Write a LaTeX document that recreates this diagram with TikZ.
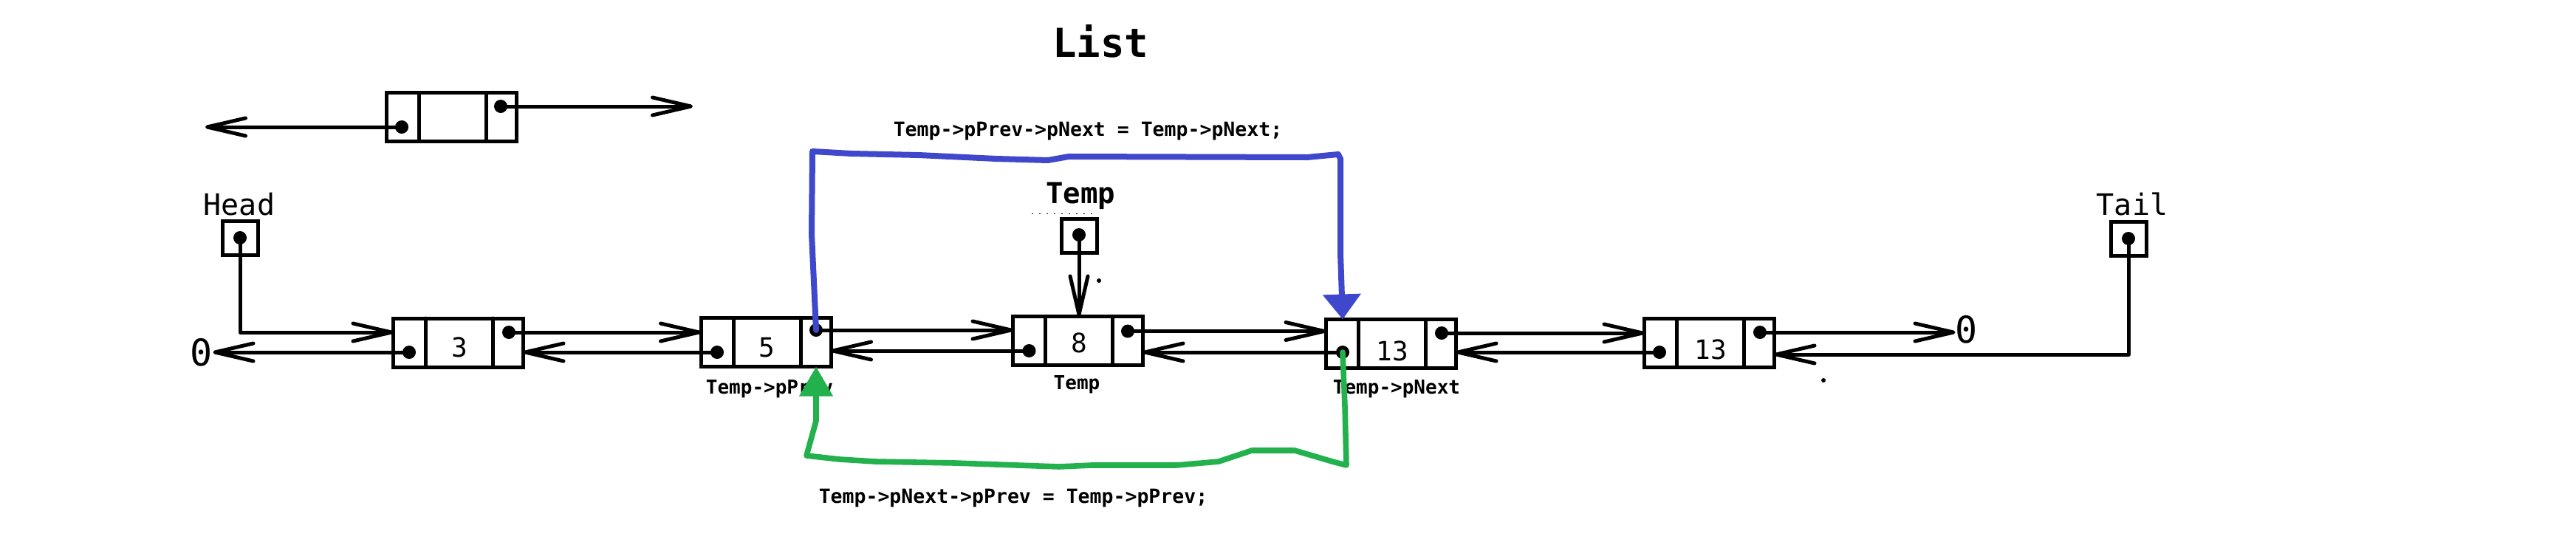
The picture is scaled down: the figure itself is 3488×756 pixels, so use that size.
\documentclass[tikz,border=0pt]{standalone}
\usepackage{fontspec}
\newfontfamily\mono{DejaVu Sans Mono}
\usetikzlibrary{arrows.meta}
\definecolor{pblue}{RGB}{63,72,204}
\definecolor{pgreen}{RGB}{34,177,76}
\begin{document}
\begin{tikzpicture}[x=0.5pt,y=-0.5pt,
  ln/.style={line width=2.5pt,black,line cap=round,line join=round},
  arr/.style={ln,-{Straight Barb[length=26pt,width=12pt,round]}},
  listbox/.style={draw,line width=2.5pt,minimum width=88pt,minimum height=33pt,inner sep=0pt,outer sep=0pt},
  ptrbox/.style={draw,line width=2.5pt,minimum width=24pt,minimum height=23pt,inner sep=0pt,outer sep=0pt},
  dot/.style={circle,fill=black,inner sep=0pt,minimum size=9pt},
  digit/.style={inner sep=0pt,font=\mono\fontsize{18}{18}\selectfont},
  zero/.style={inner sep=0pt,font=\mono\fontsize{25}{25}\selectfont},
  namelbl/.style={inner sep=0pt,anchor=base,font=\mono\fontsize{20}{20}\selectfont},
  sublbl/.style={inner sep=0pt,anchor=base,font=\mono\bfseries\fontsize{13}{13}\selectfont},
  codelbl/.style={inner sep=0pt,anchor=base,font=\mono\bfseries\fontsize{13.25}{13.25}\selectfont},
  blueline/.style={pblue,line width=4pt,line cap=round,line join=round},
  greenline/.style={pgreen,line width=3.8pt,line cap=round,line join=round}
]
\useasboundingbox[fill=white] (0,0) rectangle (3488,756);

% title
\node[inner sep=0pt,anchor=base,font=\mono\bfseries\fontsize{27}{27}\selectfont] (title) at (1490,77) {List};

% legend node
\node[listbox] (L) at (611,158.5) {};
\draw[ln] ([xshift=22pt]L.north west) -- ([xshift=22pt]L.south west);
\draw[ln] ([xshift=-20.5pt]L.north east) -- ([xshift=-20.5pt]L.south east);
\node[dot] (Ll) at (544,172) {};
\node[dot] (Lr) at (678,144) {};
\coordinate (Lleft) at (278,172);
\coordinate (Lright) at (938,144);
\draw[arr] (Ll.center) -- (Lleft);
\draw[arr] (Lr.center) -- (Lright);

% list boxes
\foreach \n/\cx/\cy in {b3/620.5/464, b5/1037/463.5, b8/1459.5/461.5, ba/1883.5/465.5, bb/2314.5/464.5}{
  \node[listbox] (\n) at (\cx,\cy) {};
  \draw[ln] ([xshift=22pt]\n.north west) -- ([xshift=22pt]\n.south west);
  \draw[ln] ([xshift=-20.5pt]\n.north east) -- ([xshift=-20.5pt]\n.south east);
}
\node[digit] (d3) at (622,470) {3};
\node[digit] (d5) at (1038.5,471) {5};
\node[digit] (d8) at (1461,464) {8};
\node[digit] (da) at (1885,475) {13};
\node[digit] (db) at (2316,473) {13};

\node[dot] (b3l) at (554,477) {};  \node[dot] (b3r) at (689,450) {};
\node[dot] (b5l) at (971,477) {};  \node[dot] (b5r) at (1105,447) {};
\node[dot] (b8l) at (1393.5,475) {}; \node[dot] (b8r) at (1527,448.5) {};
\node[dot] (bal) at (1818,477) {}; \node[dot] (bar) at (1952,451) {};
\node[dot] (bbl) at (2247,477) {}; \node[dot] (bbr) at (2383,450) {};

% null markers
\node[zero] (z1) at (273,477) {0};
\node[zero] (z2) at (2663,446) {0};

% pointer boxes
\node[namelbl] (headlbl) at (324,291) {Head};
\node[ptrbox] (head) at (325.5,322.5) {};
\node[dot] (hd) at (325,322) {};
\node[namelbl] (taillbl) at (2887,291) {Tail};
\node[ptrbox] (tail) at (2882.5,323.5) {};
\node[dot] (td) at (2882,323) {};
\node[inner sep=0pt,anchor=base,font=\mono\bfseries\fontsize{19.5}{19.5}\selectfont] (templbl) at (1463,275) {Temp};
\draw[black,line width=0.5pt,dash pattern=on 1pt off 4pt] (1397,289) -- (1482,289);
\node[ptrbox] (temp) at (1461.5,319.5) {};
\node[dot] (tpd) at (1461,318) {};

% labels under boxes
\node[sublbl] (l5) at (1042,533) {Temp->pPrev};
\node[sublbl] (l8) at (1458,527) {Temp};
\node[sublbl] (la) at (1891,533) {Temp->pNext};

% links
\draw[arr] (hd.center) |- (b3.west |- b3r);
\draw[arr] (b3l.center) -- (z1.east |- b3l);
\draw[arr] (b3r.center) -- (b5.west |- b3r);
\draw[arr] (b5l.center) -- (b3.east |- b5l);
\draw[arr] (b5r.center) -- (b8.west |- b5r);
\draw[arr] (b8l.center) -- (b5.east |- b8l);
\draw[arr] (tpd.center) -- (tpd |- b8.north);
\draw[arr] (b8r.center) -- (ba.west |- b8r);
\draw[arr] (bal.center) -- (b8.east |- bal);
\draw[arr] (bar.center) -- (bb.west |- bar);
\draw[arr] (bbl.center) -- (ba.east |- bbl);
\draw[arr] (bbr.center) -- (z2.west |- bbr);
\draw[arr] (td.center) |- ([yshift=-1.5pt]bb.east |- bbl);

% stray marks
\fill (1488,380) circle[radius=1.5pt];
\fill (2469,515) circle[radius=1.5pt];

% blue pointer change
\node[codelbl] (code1) at (1473,184) {Temp->pPrev->pNext = Temp->pNext;};
\draw[blueline,-{Triangle[length=17pt,width=25pt]}] (b5r.center) -- (1099,317) -- (1100,205) -- (1153,208) -- (1244,210) -- (1349,215) -- (1419,217) -- (1447,212) -- (1770,213) -- (1812,209) -- (1815,215) -- (1815,343) -- (bal |- ba.north);

% green pointer change
\node[codelbl] (code2) at (1372,681) {Temp->pNext->pPrev = Temp->pPrev;};
\draw[greenline,-{Triangle[length=20pt,width=22pt]}] (bal.center) -- (1821,550) -- (1823,630) -- (1804,625) -- (1753,610) -- (1695,610) -- (1650,625) -- (1593,630) -- (1478,630) -- (1434,632) -- (1293,627) -- (1185,625) -- (1137,622) -- (1092,617) -- (1105,570) -- (1105,550) -- (b5r |- b5.south);
\end{tikzpicture}
\end{document}
